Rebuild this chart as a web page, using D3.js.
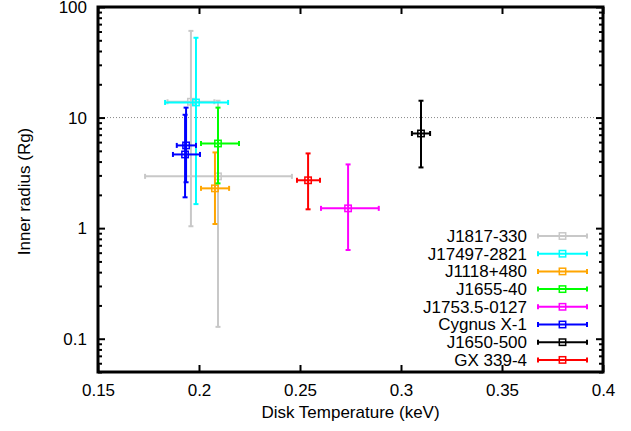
<!DOCTYPE html>
<html>
<head>
<meta charset="utf-8">
<script src="https://cdn.jsdelivr.net/npm/d3@7"></script>
<style>
  html, body { margin: 0; padding: 0; background: #fff; }
  svg { display: block; }
  text { font-family: "Liberation Sans", Arial, sans-serif; }
</style>
</head>
<body>
<svg id="chart" width="631" height="431"></svg>
<script>
// Sources, in legend order, with their colours
const sources = ["J1817-330", "J17497-2821", "J1118+480", "J1655-40",
                 "J1753.5-0127", "Cygnus X-1", "J1650-500", "GX 339-4"];
const colors  = ["#c8c8c8", "#00ffff", "#ffa500", "#00ff00",
                 "#ff00ff", "#0000ff", "#000000", "#ff0000"];

// Measurements: source, disk temperature (keV) with low/high, inner radius (Rg) with low/high
const pointSource = ["J1817-330", "J1817-330", "J17497-2821", "J1118+480", "J1655-40",
                     "J1753.5-0127", "Cygnus X-1", "Cygnus X-1", "J1650-500", "GX 339-4"];
const kT      = [0.196, 0.2094, 0.1985, 0.2079, 0.2094, 0.2738, 0.1936, 0.1931, 0.3099, 0.2540];
const kTLow   = [0.1844, 0.1733, 0.1832, 0.2010, 0.2010, 0.2604, 0.1890, 0.1871, 0.3054, 0.2485];
const kTHigh  = [0.2076, 0.2460, 0.2144, 0.2149, 0.2198, 0.2890, 0.1985, 0.2005, 0.3144, 0.2599];
const rin     = [13.9, 2.94, 13.7, 2.29, 5.83, 1.51, 5.6, 4.64, 7.18, 2.71];
const rinLow  = [1.04, 0.128, 1.65, 1.09, 2.54, 0.634, 2.6, 1.9, 3.54, 1.48];
const rinHigh = [60.8, 14.2, 52.7, 4.84, 12.3, 3.77, 12.3, 10.6, 14.2, 4.74];

// Axis ticks
const xTicks = [0.15, 0.2, 0.25, 0.3, 0.35, 0.4];
const yTicks = [0.1, 1, 10, 100];
const yMinor = [0.05, 0.06, 0.07, 0.08, 0.09,
                0.2, 0.3, 0.4, 0.5, 0.6, 0.7, 0.8, 0.9,
                2, 3, 4, 5, 6, 7, 8, 9,
                20, 30, 40, 50, 60, 70, 80, 90];
const refLevel = 10;

const svg = d3.select("#chart");
const L = 98, R = 603, T = 7, B = 372;

const x = d3.scaleLinear().domain([0.15, 0.4]).range([L, R]);
const y = d3.scaleLog().domain([0.05, 100]).range([B, T]);
const colorOf = d3.scaleOrdinal().domain(sources).range(colors);

const FS = "17px";

// dotted reference line
svg.append("line")
  .attr("x1", x(0.15)).attr("x2", x(0.4))
  .attr("y1", y(refLevel)).attr("y2", y(refLevel))
  .attr("stroke", "#888").attr("stroke-width", 1)
  .attr("stroke-dasharray", "1,2");

// axes (inward ticks, mirrored)
function styleAxis(g) {
  g.select(".domain").remove();
  g.selectAll(".tick line").attr("stroke", "#000").attr("stroke-width", 2);
  g.selectAll(".tick text").attr("font-size", FS).attr("fill", "#000")
    .attr("font-family", "Liberation Sans, Arial, sans-serif");
}

svg.append("g").attr("transform", `translate(0,${B})`)
  .call(d3.axisBottom(x).tickValues(xTicks).tickSizeInner(-7).tickPadding(12)
        .tickFormat(d => d3.format("")(+d.toFixed(2))))
  .call(styleAxis);
svg.append("g").attr("transform", `translate(0,${T})`)
  .call(d3.axisTop(x).tickValues(xTicks).tickSizeInner(-7).tickFormat(""))
  .call(styleAxis);

svg.append("g").attr("transform", `translate(${L},0)`)
  .call(d3.axisLeft(y).tickValues(yTicks).tickSizeInner(-7).tickPadding(11)
        .tickFormat(d => String(d)))
  .call(styleAxis);
svg.append("g").attr("transform", `translate(${L},0)`)
  .call(d3.axisLeft(y).tickValues(yMinor).tickSizeInner(-4).tickFormat(""))
  .call(styleAxis);
svg.append("g").attr("transform", `translate(${R},0)`)
  .call(d3.axisRight(y).tickValues(yTicks).tickSizeInner(-7).tickFormat(""))
  .call(styleAxis);
svg.append("g").attr("transform", `translate(${R},0)`)
  .call(d3.axisRight(y).tickValues(yMinor).tickSizeInner(-4).tickFormat(""))
  .call(styleAxis);

// frame
svg.append("rect")
  .attr("x", L).attr("y", T).attr("width", R - L).attr("height", B - T)
  .attr("fill", "none").attr("stroke", "#000").attr("stroke-width", 3);

// axis titles
svg.append("text").attr("x", (L + R) / 2).attr("y", 418)
  .attr("text-anchor", "middle").attr("font-size", FS).text("Disk Temperature (keV)");
svg.append("text").attr("transform", `translate(30,${(T + B) / 2 + 2}) rotate(-90)`)
  .attr("text-anchor", "middle").attr("font-size", FS).text("Inner radius (Rg)");

// error bars with caps and open square markers
const cap = 2.5, sq = 3.2;
const pts = svg.append("g");
pointSource.forEach((s, i) => {
  const c = colorOf(s);
  const g = pts.append("g").attr("stroke", c).attr("stroke-width", 2).attr("fill", "none");
  const cx = x(kT[i]), cy = y(rin[i]);
  const x0 = x(kTLow[i]), x1 = x(kTHigh[i]);
  const y0 = y(rinLow[i]), y1 = y(rinHigh[i]);
  g.append("line").attr("x1", x0).attr("x2", x1).attr("y1", cy).attr("y2", cy);
  g.append("line").attr("x1", cx).attr("x2", cx).attr("y1", y0).attr("y2", y1);
  [x0, x1].forEach(xx => g.append("line").attr("x1", xx).attr("x2", xx)
    .attr("y1", cy - cap).attr("y2", cy + cap));
  [y0, y1].forEach(yy => g.append("line").attr("y1", yy).attr("y2", yy)
    .attr("x1", cx - cap).attr("x2", cx + cap));
  g.append("rect").attr("x", cx - sq).attr("y", cy - sq)
    .attr("width", 2 * sq).attr("height", 2 * sq).attr("stroke-width", 1.5);
});

// legend
const legX = 527, legY = 236, legDy = 17.7, s0 = 538, s1 = 587;
sources.forEach((s, i) => {
  const yy = legY + i * legDy;
  const c = colorOf(s);
  svg.append("text").attr("x", legX).attr("y", yy).attr("dy", "0.35em")
    .attr("text-anchor", "end").attr("font-size", FS).text(s);
  const g = svg.append("g").attr("stroke", c).attr("stroke-width", 2).attr("fill", "none");
  g.append("line").attr("x1", s0).attr("x2", s1).attr("y1", yy).attr("y2", yy);
  [s0, s1].forEach(xx => g.append("line").attr("x1", xx).attr("x2", xx)
    .attr("y1", yy - cap).attr("y2", yy + cap));
  const m = (s0 + s1) / 2;
  g.append("rect").attr("x", m - sq).attr("y", yy - sq)
    .attr("width", 2 * sq).attr("height", 2 * sq).attr("stroke-width", 1.5);
});
</script>
</body>
</html>
